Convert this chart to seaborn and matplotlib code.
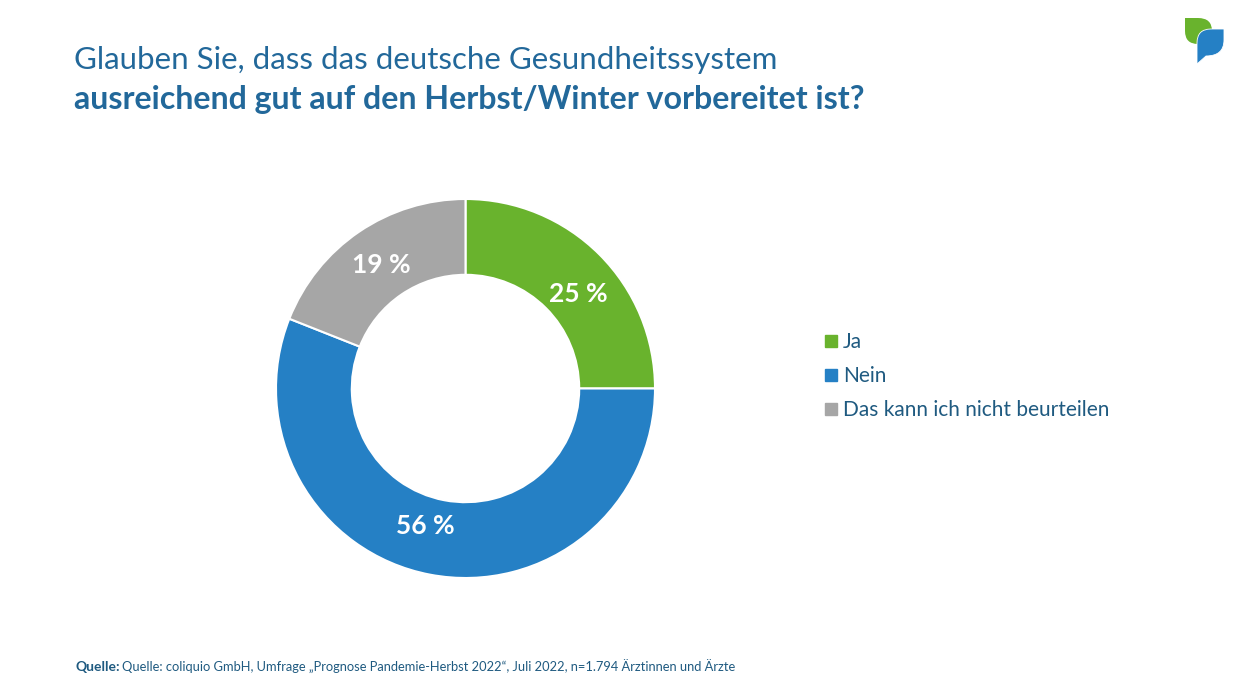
import matplotlib
matplotlib.use('Agg')
import matplotlib.pyplot as plt
from matplotlib.lines import Line2D
from matplotlib.patches import PathPatch
from matplotlib.path import Path
import seaborn as sns

# Survey data
answers = ['Ja', 'Nein', 'Das kann ich nicht beurteilen']
shares = [25, 56, 19]
slice_colors = ['#69B32D', '#2580C5', '#A6A6A6']

title_line1 = 'Glauben Sie, dass das deutsche Gesundheitssystem'
title_line2 = 'ausreichend gut auf den Herbst/Winter vorbereitet ist?'
source_bold = 'Quelle:'
source_text = 'Quelle: coliquio GmbH, Umfrage „Prognose Pandemie-Herbst 2022“, Juli 2022, n=1.794 Ärztinnen und Ärzte'

TITLE_COLOR = '#22689A'
TEXT_COLOR = '#1F5A80'
W, H = 1241, 700

sns.set_theme(style='white')
plt.rcParams['font.family'] = ['Lato', 'DejaVu Sans']

fig = plt.figure(figsize=(W / 100, H / 100), dpi=100, facecolor='white')

# Donut, axes box set so the outer radius lands on the reference circle
cx, cy, r = 465.5, 388.5, 189.5
ax = fig.add_axes([(cx - r) / W, 1 - (cy + r) / H, 2 * r / W, 2 * r / H])
palette = sns.color_palette(slice_colors)
wedges, _, pct_texts = ax.pie(
    shares,
    colors=palette,
    startangle=90,
    counterclock=False,
    radius=1,
    autopct=lambda p: f'{p:.0f} %',
    pctdistance=0.795,
    wedgeprops={'width': 0.4, 'edgecolor': 'white', 'linewidth': 1.5},
)
ax.set_xlim(-1, 1)
ax.set_ylim(-1, 1)

# Labels do not sit exactly on the slice middle in the reference, pixel centres here
label_pixels = [(578, 294), (425, 526), (381, 265)]
for t, (px, py) in zip(pct_texts, label_pixels):
    t.set_position(((px - cx) / r, (cy - py) / r))
    t.set_color('white')
    t.set_fontsize(19)
    t.set_fontweight('bold')

# Legend
handles = [Line2D([], [], linestyle='none', marker='s', markersize=8.5, color=c) for c in palette]
fig.legend(
    handles, answers,
    loc='center left',
    bbox_to_anchor=(818 / W, 1 - 376 / H),
    frameon=False,
    fontsize=15,
    labelcolor=TEXT_COLOR,
    labelspacing=0.68,
    handletextpad=0.0,
    handlelength=1.2,
    borderpad=0,
    borderaxespad=0,
)

# Title and source
fig.text(74 / W, 1 - 60.5 / H, title_line1, fontsize=22.5, color=TITLE_COLOR, va='center')
fig.text(74 / W, 1 - 99.5 / H, title_line2, fontsize=23.1, color=TITLE_COLOR, va='center', fontweight='bold')
fig.text(76 / W, 1 - 667 / H, source_bold, fontsize=10, color=TEXT_COLOR, va='center', fontweight='bold')
fig.text(122 / W, 1 - 667 / H, source_text, fontsize=9.3, color=TEXT_COLOR, va='center')

# Logo in the top right corner
logo = fig.add_axes([0, 0, 1, 1], facecolor='none')
logo.set_xlim(0, W)
logo.set_ylim(H, 0)
logo.axis('off')
green = Path(
    [(1185, 18), (1198, 18), (1212, 18), (1212, 31), (1212, 44), (1198, 44), (1185, 44), (1185, 31), (1185, 18)],
    [Path.MOVETO, Path.LINETO, Path.CURVE3, Path.CURVE3, Path.CURVE3, Path.CURVE3, Path.CURVE3, Path.CURVE3, Path.CLOSEPOLY],
)
blue = Path(
    [(1224, 29), (1224, 40), (1224, 56), (1206, 56), (1197, 64), (1197, 43), (1197, 29), (1211, 29), (1224, 29)],
    [Path.MOVETO, Path.LINETO, Path.CURVE3, Path.CURVE3, Path.LINETO, Path.LINETO, Path.CURVE3, Path.CURVE3, Path.CLOSEPOLY],
)
logo.add_patch(PathPatch(green, facecolor='#69B32D', edgecolor='none'))
logo.add_patch(PathPatch(blue, facecolor='#2580C5', edgecolor='white', linewidth=0.6))

fig.savefig('out.png', dpi=100, facecolor='white')
